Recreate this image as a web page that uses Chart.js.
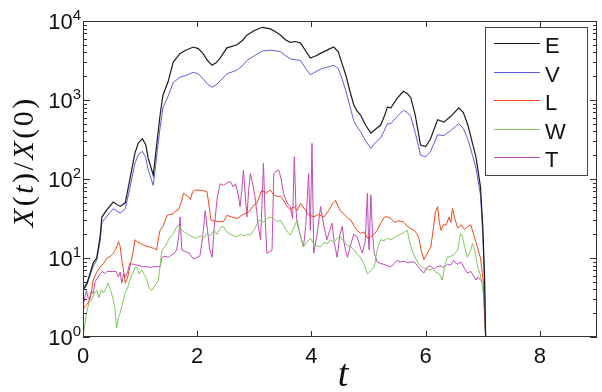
<!DOCTYPE html>
<html><head><meta charset="utf-8">
<script src="https://cdn.jsdelivr.net/npm/chart.js@4.4.1/dist/chart.umd.min.js"></script>
<style>html,body{margin:0;padding:0;background:#fff;}#wrap{width:602px;height:392px;}</style>
</head><body><div id="wrap"><canvas id="c" width="602" height="392"></canvas></div>
<script>
// ---- data ----
const tEV = [0,0.07,0.12,0.18,0.24,0.30,0.33,0.42,0.53,0.65,
0.74,0.82,0.91,0.97,1.04,1.10,1.14,1.23,1.30,1.35,
1.40,1.49,1.58,1.70,1.80,1.93,2.02,2.10,2.18,2.26,
2.33,2.40,2.52,2.70,2.80,2.87,3.00,3.14,3.28,3.40,
3.46,3.55,3.63,3.72,3.81,3.90,3.98,4.08,4.16,4.30,
4.39,4.47,4.54,4.60,4.67,4.74,4.80,4.86,4.95,5.04,
5.12,5.21,5.28,5.33,5.39,5.50,5.61,5.68,5.74,5.82,
5.91,6.00,6.08,6.21,6.32,6.45,6.58,6.66,6.74,6.82,
6.88,6.96,7.00,7.03,7.05];
const E = [4.0,4.8,6.3,8.7,10,18.6,33,41,51,45,
50,98,214,288,324,269,186,112,316,646,
1150,1700,3020,3890,4270,4680,4470,3890,3160,2750,
2950,3390,4570,5010,5750,6610,7590,8320,7940,7080,
6610,5750,5370,5500,5250,4170,3390,3630,3890,4370,
4680,4070,2820,2090,1320,871,724,646,479,380,
427,479,631,813,794,1050,1290,1200,1070,631,
269,257,316,562,525,631,794,692,479,282,
191,79,25,6.3,1];
const V = [3.8,4.6,5.9,7.9,9.3,16.6,28,34,42,37,
42,76,158,204,224,186,132,83,224,447,
794,1120,1660,1950,2040,2240,2140,1860,1590,1450,
1550,1740,2140,2400,2750,3160,3630,4170,4270,4170,
4070,3630,3310,3240,3160,2510,2090,2290,2460,2630,
2750,2510,1820,1320,851,550,457,398,302,245,
288,331,417,501,501,617,741,692,617,380,
200,191,219,363,355,417,501,437,316,200,
138,63,20,5,1];
const tL = [0,0.05,0.09,0.14,0.18,0.24,0.30,0.36,0.42,0.48,
0.53,0.58,0.62,0.65,0.68,0.72,0.74,0.78,0.82,0.87,
0.91,0.96,1.00,1.06,1.12,1.20,1.25,1.29,1.32,1.35,
1.40,1.47,1.52,1.58,1.63,1.67,1.72,1.76,1.80,1.84,
1.88,1.92,1.96,2.05,2.12,2.17,2.20,2.24,2.30,2.38,
2.46,2.52,2.60,2.70,2.80,2.90,2.99,3.05,3.13,3.20,
3.28,3.34,3.40,3.46,3.51,3.57,3.63,3.70,3.75,3.81,
3.88,3.95,4.04,4.12,4.22,4.30,4.38,4.42,4.47,4.51,
4.58,4.64,4.69,4.75,4.80,4.86,4.92,4.98,5.04,5.10,
5.15,5.22,5.28,5.33,5.39,5.46,5.52,5.61,5.68,5.74,
5.80,5.85,5.88,5.92,5.97,6.02,6.09,6.14,6.17,6.21,
6.24,6.27,6.31,6.36,6.41,6.44,6.47,6.51,6.56,6.62,
6.68,6.74,6.79,6.84,6.90,6.96,7.01,7.05];
const L = [2.24,2.51,2.69,3.55,5.25,6.61,7.76,8.51,10,10.5,
11.5,13.2,16.2,14.1,9.33,6.31,4.79,5.62,7.76,11.2,
17.0,15.8,15.5,14.5,14.1,13.5,13.2,12.6,17.8,22.4,
25.1,34.7,35.5,36.3,39.8,40.7,50.1,66.1,63.1,60.3,
55.0,69.2,72.4,72.4,70.8,69.2,50.1,30.2,29.5,28.8,
28.8,34.7,33.1,31.6,35.5,38.0,46.8,50.1,72.4,66.1,
72.4,63.1,60.3,60.3,53.7,45.7,40.7,44.7,39.8,49.0,
41.7,35.5,33.1,35.5,33.1,39.8,50.1,53.7,44.7,38.9,
35.5,31.6,30.2,25.1,22.4,20.4,21.4,17.8,18.6,20.0,
22.4,28.2,33.1,33.1,31.6,28.2,29.5,28.8,25.1,23.4,
22.4,20.0,17.8,12.6,9.55,11.2,13.8,25.1,38.0,44.7,
28.2,22.4,26.3,26.3,33.1,28.2,42.7,31.6,24.0,26.3,
22.9,25.1,26.3,20.0,14.1,10.0,5.0,1];
const tW = [0,0.03,0.06,0.10,0.15,0.20,0.24,0.28,0.32,0.36,
0.40,0.44,0.48,0.53,0.56,0.59,0.62,0.65,0.70,0.74,
0.78,0.82,0.87,0.91,0.94,0.98,1.03,1.08,1.12,1.16,
1.20,1.26,1.32,1.35,1.38,1.44,1.49,1.53,1.58,1.63,
1.67,1.72,1.77,1.82,1.88,1.94,1.99,2.05,2.11,2.17,
2.23,2.29,2.35,2.40,2.46,2.52,2.58,2.64,2.70,2.76,
2.82,2.88,2.93,3.00,3.06,3.10,3.16,3.22,3.28,3.34,
3.40,3.46,3.52,3.58,3.63,3.69,3.75,3.80,3.86,3.92,
3.98,4.04,4.10,4.16,4.22,4.28,4.33,4.39,4.45,4.51,
4.57,4.63,4.69,4.75,4.80,4.86,4.92,4.98,5.04,5.10,
5.15,5.21,5.27,5.33,5.39,5.44,5.50,5.56,5.61,5.68,
5.72,5.76,5.82,5.88,5.94,6.00,6.06,6.12,6.18,6.24,
6.29,6.34,6.38,6.44,6.50,6.56,6.61,6.64,6.68,6.73,
6.79,6.82,6.86,6.91,6.96,7.01,7.05];
const W = [1.0,1.41,2.0,2.63,2.95,3.55,3.89,3.16,3.98,3.63,
4.17,4.79,3.98,2.95,2.24,1.29,1.78,2.0,2.82,3.63,
4.17,5.25,6.31,7.59,7.76,6.31,7.08,6.03,5.25,4.17,
3.89,4.47,5.25,7.94,12.6,14.1,16.6,18.6,20.0,24.0,
26.3,22.9,21.4,20.4,19.1,18.2,17.8,19.1,17.8,20.4,
19.1,22.4,20.0,24.0,25.1,21.4,20.0,19.1,18.6,20.0,
19.1,20.0,19.5,22.9,28.2,30.2,28.2,31.6,33.1,31.6,
28.8,30.2,25.1,21.4,19.5,24.0,30.2,20.0,13.8,15.8,
17.8,15.1,14.1,13.8,15.8,15.1,17.0,15.8,17.8,18.6,
15.8,14.5,13.8,12.6,11.2,10.2,8.32,6.31,6.92,7.76,
12.6,17.0,16.6,17.8,17.0,17.8,19.1,20.0,20.9,22.4,
15.8,12.6,10.0,8.32,7.76,7.24,7.08,7.24,6.61,6.31,
5.25,8.32,10.2,10.5,11.2,12.6,20.4,19.1,14.1,10.2,
12.6,15.5,12.6,7.76,6.03,3.55,1];
const tT = [0,0.03,0.06,0.09,0.12,0.15,0.18,0.21,0.25,0.30,
0.34,0.38,0.42,0.47,0.53,0.58,0.62,0.65,0.68,0.71,
0.74,0.78,0.82,0.88,0.94,1.00,1.06,1.12,1.18,1.24,
1.30,1.35,1.38,1.44,1.50,1.53,1.58,1.64,1.68,1.70,
1.73,1.80,1.86,1.93,1.98,2.05,2.10,2.14,2.18,2.22,
2.26,2.30,2.35,2.40,2.46,2.52,2.58,2.63,2.67,2.72,
2.75,2.78,2.81,2.84,2.87,2.90,2.93,2.97,3.02,3.07,
3.11,3.16,3.19,3.22,3.27,3.31,3.34,3.38,3.43,3.47,
3.51,3.57,3.63,3.67,3.70,3.73,3.75,3.80,3.86,3.90,
3.95,3.98,4.01,4.04,4.10,4.16,4.22,4.27,4.32,4.36,
4.40,4.45,4.50,4.54,4.58,4.63,4.68,4.74,4.80,4.85,
4.89,4.94,4.98,5.00,5.01,5.04,5.07,5.10,5.15,5.21,
5.27,5.33,5.39,5.45,5.50,5.56,5.62,5.68,5.74,5.80,
5.86,5.92,5.97,6.02,6.08,6.14,6.20,6.26,6.32,6.38,
6.44,6.49,6.55,6.62,6.68,6.73,6.79,6.85,6.88,6.91,
6.96,7.01,7.05];
const T = [2.4,3.16,3.89,3.16,2.95,3.8,3.55,5.01,5.5,6.31,
6.76,6.31,6.76,6.76,6.76,6.76,5.75,6.61,4.79,6.31,
5.75,6.61,8.51,8.32,8.13,7.94,7.76,7.76,7.59,7.76,
7.76,7.76,10.2,10.5,10.2,10.7,11.2,12.6,20,33.1,
12.6,12.0,11.5,9.77,10,10.7,20,39.8,22.4,12.6,
10.2,25.1,57.5,87.1,83.2,89.1,93.3,79.4,87.1,63.1,
44.7,70.8,129,63.1,33.1,70.8,117,89.1,53.7,25.1,
17.0,158,31.6,11.5,12.0,12.6,117,126,129,100,
66.1,50.1,44.7,31.6,191,39.8,27.5,20,13.8,25.1,
117,22.4,282,11.5,20,44.7,25.1,17.0,22.4,27.5,
15.8,10.2,20,25.1,14.1,10.2,14.1,20,18.6,14.1,
11.5,15.8,66.1,15.8,12.6,63.1,20,11.5,8.91,8.51,
8.32,7.94,7.76,8.51,9.33,8.91,9.12,8.71,8.91,8.91,
7.94,6.92,6.46,7.59,7.94,7.24,7.76,7.94,7.59,8.32,
8.13,9.33,8.32,8.91,7.41,6.46,6.76,5.75,5.25,5.75,
5.25,5.01,1];
const seriesNames = ['E','V','L','W','T'];
const xTickValues = [0,2,4,6,8];
const yTickValues = [1,10,100,1000,10000];
const yTickExponents = ['0','1','2','3','4'];

// ---- styling ----
const COLORS = {E:'#1c1c1c', V:'#5c5ce6', L:'#f04818', W:'#80c860', T:'#c24ab4'};
const WIDTHS = {E:1.2, V:1, L:1, W:1, T:1};
const pts = (t, v) => t.map((x, i) => ({x: x, y: v[i]}));
const seriesData = {E: pts(tEV, E), V: pts(tEV, V), L: pts(tL, L), W: pts(tW, W), T: pts(tT, T)};

const figPlugin = {
  id: 'fig',
  beforeDraw(chart) {
    const c = chart.ctx; c.save(); c.fillStyle = '#fff';
    c.fillRect(0, 0, chart.width, chart.height); c.restore();
  },
  afterDraw(chart) {
    const c = chart.ctx, a = chart.chartArea, xs = chart.scales.x, ys = chart.scales.y;
    c.save();
    c.strokeStyle = '#333'; c.lineWidth = 1;
    c.strokeRect(a.left + 0.5, a.top + 0.5, a.right - a.left - 1, a.bottom - a.top - 1);
    c.beginPath();
    xTickValues.forEach(v => {
      const px = Math.round(xs.getPixelForValue(v)) + 0.5;
      c.moveTo(px, a.bottom); c.lineTo(px, a.bottom - 6);
      c.moveTo(px, a.top); c.lineTo(px, a.top + 6);
    });
    yTickValues.forEach((v, i) => {
      const py = Math.round(ys.getPixelForValue(v)) + 0.5;
      c.moveTo(a.left, py); c.lineTo(a.left + 7, py);
      c.moveTo(a.right, py); c.lineTo(a.right - 7, py);
      if (i < yTickValues.length - 1) {
        for (let m = 2; m <= 9; m++) {
          const q = Math.round(ys.getPixelForValue(v * m)) + 0.5;
          c.moveTo(a.left, q); c.lineTo(a.left + 4, q);
          c.moveTo(a.right, q); c.lineTo(a.right - 4, q);
        }
      }
    });
    c.stroke();
    // tick labels
    c.fillStyle = '#111';
    c.textAlign = 'center'; c.textBaseline = 'alphabetic';
    c.font = '22px "Liberation Sans", Arial, sans-serif';
    xTickValues.forEach(v => c.fillText(String(v), xs.getPixelForValue(v), 363));
    yTickValues.forEach((v, i) => {
      const py = ys.getPixelForValue(v);
      c.font = '15px "Liberation Sans", Arial, sans-serif';
      const ew = c.measureText(yTickExponents[i]).width;
      c.textAlign = 'left';
      c.fillText(yTickExponents[i], 81 - ew, py - 1);
      c.font = '22px "Liberation Sans", Arial, sans-serif';
      c.textAlign = 'right';
      c.fillText('10', 81 - ew, py + 8);
    });
    // axis titles
    c.textAlign = 'center';
    c.font = 'italic 38px "Liberation Serif", "Times New Roman", serif';
    c.fillText('t', 343, 386);
    const segs = [['X', true], ['(', false], ['t', true], [')', false], ['/', false], ['X', true], ['(', false], ['0', false], [')', false]];
    const fs = 30, gap = 2.5;
    c.save();
    c.translate(33, 163);
    c.rotate(-Math.PI / 2);
    const fontOf = it => (it ? 'italic ' : '') + fs + 'px "Liberation Serif", "Times New Roman", serif';
    let total = 0;
    segs.forEach(([s, it]) => { c.font = fontOf(it); total += c.measureText(s).width; });
    total += gap * (segs.length - 1);
    let xx = -total / 2;
    c.textAlign = 'left';
    segs.forEach(([s, it]) => { c.font = fontOf(it); c.fillText(s, xx, 0); xx += c.measureText(s).width + gap; });
    c.restore();
    // legend
    const lx0 = 485, ly0 = 27, lx1 = 587, ly1 = 175;
    c.fillStyle = '#fff';
    c.fillRect(lx0, ly0, lx1 - lx0, ly1 - ly0);
    c.strokeStyle = '#444'; c.lineWidth = 1;
    c.strokeRect(lx0 + 0.5, ly0 + 0.5, lx1 - lx0, ly1 - ly0);
    c.font = '22px "Liberation Sans", Arial, sans-serif';
    c.textAlign = 'left';
    seriesNames.forEach((n, i) => {
      const cy = 45 + i * 28.5;
      c.strokeStyle = COLORS[n]; c.lineWidth = WIDTHS[n];
      c.beginPath(); c.moveTo(494, Math.round(cy) - 1.5); c.lineTo(540, Math.round(cy) - 1.5); c.stroke();
      c.fillStyle = '#111';
      c.fillText(n, 545, cy + 8);
    });
    c.restore();
  }
};

new Chart(document.getElementById('c'), {
  type: 'line',
  data: {
    datasets: seriesNames.map(n => ({
      label: n, data: seriesData[n], borderColor: COLORS[n], backgroundColor: COLORS[n],
      borderWidth: WIDTHS[n], pointRadius: 0, tension: 0, fill: false
    }))
  },
  options: {
    responsive: false, animation: false, devicePixelRatio: 1,
    layout: {padding: {left: 83, top: 21, right: 5, bottom: 55}},
    plugins: {legend: {display: false}, tooltip: {enabled: false}},
    scales: {
      x: {type: 'linear', min: 0, max: 9, display: false},
      y: {type: 'logarithmic', min: 1, max: 10000, display: false}
    }
  },
  plugins: [figPlugin]
});
</script></body></html>
